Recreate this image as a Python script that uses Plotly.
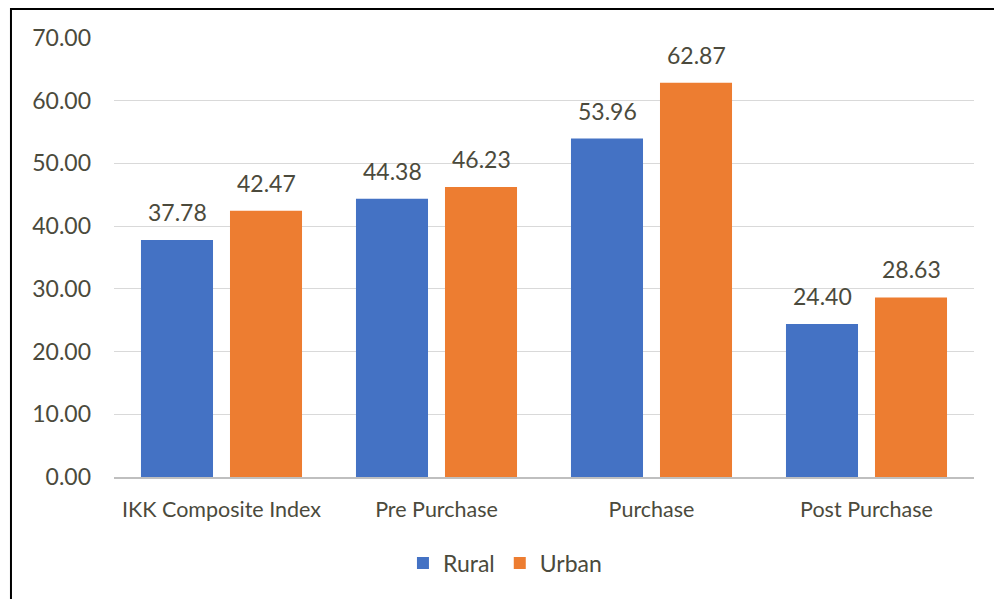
import plotly.graph_objects as go

categories = ["IKK Composite Index", "Pre Purchase", "Purchase", "Post Purchase"]
rural = [37.78, 44.38, 53.96, 24.40]
urban = [42.47, 46.23, 62.87, 28.63]
y_ticks = [0, 10, 20, 30, 40, 50, 60, 70]

BLUE = "#4472C4"
ORANGE = "#ED7D31"
TEXT = "#4b4a3c"
FONT = "Lato"

xs = list(range(len(categories)))
bar_w = 0.335
half_sep = 0.207

fig = go.Figure()
fig.add_trace(go.Bar(
    x=xs, y=rural, name="Rural", marker_color=BLUE,
    width=bar_w, offset=-half_sep - bar_w / 2, marker_line_width=0,
))
fig.add_trace(go.Bar(
    x=xs, y=urban, name="Urban", marker_color=ORANGE,
    width=bar_w, offset=half_sep - bar_w / 2, marker_line_width=0,
))

annotations = []
for i, (r, u) in enumerate(zip(rural, urban)):
    for val, dx in ((r, -half_sep), (u, half_sep)):
        annotations.append(dict(
            x=i + dx, y=val, xref="x", yref="y", text=f"{val:.2f}",
            showarrow=False, yanchor="bottom", yshift=12,
            font=dict(family=FONT, size=23, color=TEXT),
        ))

fig.update_layout(
    width=994, height=599,
    margin=dict(l=114, r=20, t=38, b=122),
    paper_bgcolor="white", plot_bgcolor="white",
    barmode="overlay",
    font=dict(family=FONT, color=TEXT),
    annotations=annotations,
    showlegend=True,
    legend=dict(
        orientation="h", x=0.336, xanchor="left", y=-0.196, yanchor="middle",
        font=dict(family=FONT, size=23, color=TEXT),
        itemwidth=30, traceorder="normal",
    ),
    xaxis=dict(
        tickmode="array", tickvals=xs, ticktext=categories,
        range=[-0.5, len(categories) - 0.5],
        showgrid=False, zeroline=False, showline=True,
        linecolor="#bfbfbf", linewidth=1.5, ticks="",
        tickfont=dict(family=FONT, size=21.5, color=TEXT),
        ticklabelstandoff=12,
    ),
    yaxis=dict(
        range=[0, 70], tickmode="array", tickvals=y_ticks,
        ticktext=[f"{v:.2f}" for v in y_ticks],
        showgrid=True, gridcolor="#d9d9d9", gridwidth=1,
        zeroline=False, showline=False, ticks="",
        tickfont=dict(family=FONT, size=23, color=TEXT),
        ticklabelstandoff=22,
    ),
    shapes=[dict(
        type="rect", xref="paper", yref="paper",
        x0=-0.1198, x1=1.2, y0=-0.6, y1=1.066,
        line=dict(color="black", width=2), fillcolor="rgba(0,0,0,0)",
        layer="above",
    )],
)

fig.write_html("out.html")
